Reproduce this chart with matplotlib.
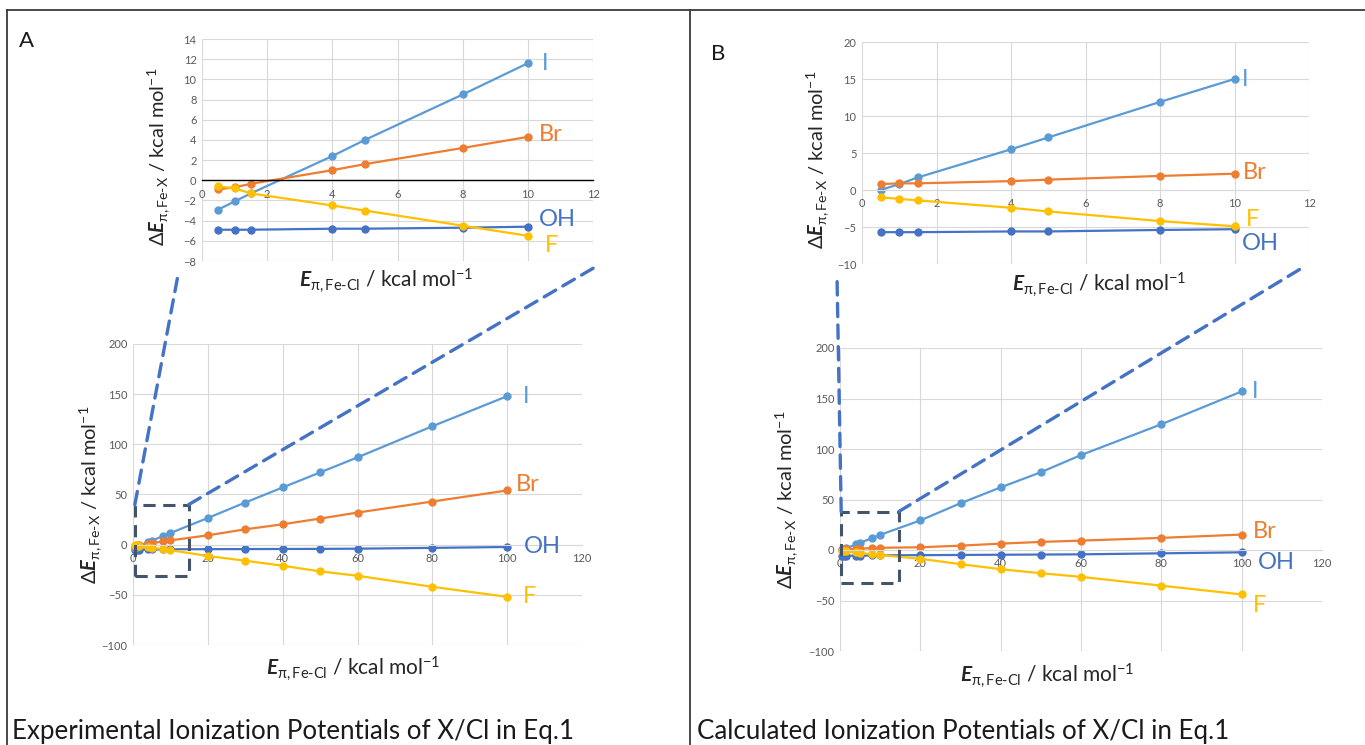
import matplotlib
matplotlib.use('Agg')
import matplotlib.pyplot as plt
from matplotlib.patches import Rectangle, ConnectionPatch
from matplotlib.lines import Line2D

# x values (kcal/mol); the insets show the first 7 points
x_zoom = [0.5, 1, 1.5, 4, 5, 8, 10]
x_full = x_zoom + [20, 30, 40, 50, 60, 80, 100]

# panel A - experimental
exp_I = [-2.9, -2.1, -1.3, 2.4, 4.0, 8.5, 11.6, 26.6, 42, 57, 72, 87, 118, 148]
exp_Br = [-0.9, -0.7, -0.35, 1.0, 1.6, 3.2, 4.3, 9.3, 15.3, 20.3, 26, 32, 43, 54]
exp_OH = [-4.9, -4.9, -4.9, -4.8, -4.8, -4.7, -4.6, -4.5, -4.4, -4.3, -4.2, -4.0, -3.2, -2.3]
exp_F = [-0.6, -0.8, -1.3, -2.5, -3.0, -4.5, -5.5, -11.3, -16, -21, -26.6, -31, -42, -52]

# panel B - calculated
calc_I = [0.0, 0.8, 1.7, 5.5, 7.1, 11.9, 15.0, 29.3, 46.3, 62, 77, 94, 124.5, 157]
calc_Br = [0.8, 0.9, 0.9, 1.2, 1.4, 1.9, 2.2, 2.7, 4.3, 6.3, 8.0, 9.3, 12, 15.3]
calc_OH = [-5.7, -5.7, -5.7, -5.6, -5.6, -5.4, -5.3, -5.1, -4.9, -4.7, -4.5, -4.3, -3.3, -2.3]
calc_F = [-1.0, -1.2, -1.4, -2.4, -2.9, -4.2, -4.9, -8.7, -14, -19, -23, -26.6, -35.3, -44]

names = ['OH', 'I', 'Br', 'F']
colors = {'I': '#5B9BD5', 'Br': '#ED7D31', 'F': '#FFC000', 'OH': '#4472C4'}

main_xticks = [0, 20, 40, 60, 80, 100, 120]
main_yticks = [-100, -50, 0, 50, 100, 150, 200]
inset_xticks = [0, 2, 4, 6, 8, 10, 12]
insetA_yticks = [-8, -6, -4, -2, 0, 2, 4, 6, 8, 10, 12, 14]
insetB_yticks = [-10, -5, 0, 5, 10, 15, 20]

caption_A = 'Experimental Ionization Potentials of X/Cl in Eq.1'
caption_B = 'Calculated Ionization Potentials of X/Cl in Eq.1'

ylab = r'$\Delta\mathit{E}_{\mathrm{\pi},\text{Fe-X}}$ / kcal mol$^{\mathrm{-1}}$'
xlab = r'$\mathit{E}_{\mathrm{\pi},\text{Fe-Cl}}$ / kcal mol$^{\mathrm{-1}}$'

plt.rcParams['font.family'] = ['Lato', 'DejaVu Sans']
plt.rcParams['mathtext.fontset'] = 'custom'
plt.rcParams['mathtext.rm'] = 'Lato'
plt.rcParams['mathtext.it'] = 'Lato:italic:bold'
plt.rcParams['mathtext.bf'] = 'Lato:bold'
plt.rcParams['mathtext.fallback'] = 'stixsans'

W, H = 1365, 745
fig = plt.figure(figsize=(W / 100, H / 100), dpi=100)


def rect(x0, y0, x1, y1):
    # pixel box (top-left origin) -> figure fraction
    return [x0 / W, 1 - y1 / H, (x1 - x0) / W, (y1 - y0) / H]


def pt(x, y):
    return (x / W, 1 - y / H)


def draw(ax, xs, data, xticks, yticks, offsets, zero_color, fs_lab=17):
    ax.set_xlim(xticks[0], xticks[-1])
    ax.set_ylim(yticks[0], yticks[-1])
    ax.set_xticks(xticks)
    ax.set_yticks(yticks)
    ax.grid(True, color='#D9D9D9', lw=0.8)
    ax.set_axisbelow(True)
    for s in ['top', 'right', 'left']:
        ax.spines[s].set_visible(False)
    ax.spines['bottom'].set_position(('data', 0))
    ax.spines['bottom'].set_color(zero_color)
    ax.spines['bottom'].set_linewidth(1.0 if zero_color != '#D9D9D9' else 0.8)
    ax.tick_params(length=0, labelsize=8, labelcolor='#595959')
    ax.tick_params(axis='x', pad=6)
    ax.tick_params(axis='y', pad=4)
    for name in names:
        ys = data[name][:len(xs)]
        ax.plot(xs, ys, color=colors[name], lw=1.6, marker='o', ms=5, clip_on=False)
        ax.annotate(name, xy=(xs[-1], ys[-1]), xytext=offsets[name], textcoords='offset points',
                    ha='left', va='center', color=colors[name], fontsize=fs_lab)


expA = {'I': exp_I, 'Br': exp_Br, 'OH': exp_OH, 'F': exp_F}
calcB = {'I': calc_I, 'Br': calc_Br, 'OH': calc_OH, 'F': calc_F}

# ---- panel A ----
axA_in = fig.add_axes(rect(202, 39, 593, 261))
draw(axA_in, x_zoom, expA, inset_xticks, insetA_yticks,
     {'I': (10, 0), 'Br': (8, 2), 'OH': (8, 5), 'F': (12, -7)}, 'black')
axA = fig.add_axes(rect(133, 344, 582, 645))
draw(axA, x_full, expA, main_xticks, main_yticks,
     {'I': (11, 0), 'Br': (6, 4), 'OH': (12, 0), 'F': (11, 0)}, '#D9D9D9')

# ---- panel B ----
axB_in = fig.add_axes(rect(862, 42, 1309, 264))
draw(axB_in, x_zoom, calcB, inset_xticks, insetB_yticks,
     {'I': (5, 0), 'Br': (6, 1), 'OH': (5, -10), 'F': (8, 5)}, '#D9D9D9')
axB = fig.add_axes(rect(840, 348, 1322, 651))
draw(axB, x_full, calcB, main_xticks, main_yticks,
     {'I': (7, 0), 'Br': (8, 2), 'OH': (12, -7), 'F': (8, -8)}, '#D9D9D9')

# axis labels
for ax, xl, yl in [(axA_in, (0.47, -0.09), (-0.11, 0.47)),
                   (axA, (0.49, -0.08), (-0.095, 0.5)),
                   (axB_in, (0.53, -0.095), (-0.10, 0.47)),
                   (axB, (0.43, -0.08), (-0.11, 0.5))]:
    ax.set_xlabel(xlab, fontsize=15, color='#262626', va='center')
    ax.set_ylabel(ylab, fontsize=14.5, color='#262626', va='center')
    ax.xaxis.set_label_coords(*xl)
    ax.yaxis.set_label_coords(*yl)

# zoom boxes and connector lines
for ax, ax_in, box, ends in [(axA, axA_in, (0.5, -31, 14.9, 40), (pt(178, 275), pt(597, 266))),
                             (axB, axB_in, (0.3, -33, 14.6, 38), (pt(837, 275), pt(1302, 268)))]:
    x0, y0, x1, y1 = box
    ax.add_patch(Rectangle((x0, y0), x1 - x0, y1 - y0, fill=False, ec='#44546A', lw=2.2,
                           ls=(0, (4, 2.5)), zorder=5, clip_on=False))
    for (bx, by), end in zip([(x0, y1), (x1, y1)], ends):
        cp = ConnectionPatch(xyA=(bx, by), coordsA='data', axesA=ax, xyB=end,
                             coordsB='figure fraction', color='#4472C4', lw=2.4,
                             ls=(0, (4, 2.5)), zorder=6)
        fig.add_artist(cp)

# panel frame lines
for a, b in [((7, 10), (1365, 10)), ((7, 10), (7, 745)), ((690, 10), (690, 745))]:
    fig.add_artist(Line2D([a[0] / W, b[0] / W], [1 - a[1] / H, 1 - b[1] / H],
                          color='#3a3a3a', lw=1.3, transform=fig.transFigure))

fig.text(19 / W, 1 - 41 / H, 'A', fontsize=16, va='center', ha='left', color='#1a1a1a')
fig.text(711 / W, 1 - 54 / H, 'B', fontsize=16, va='center', ha='left', color='#1a1a1a')
fig.text(12 / W, 1 - 731 / H, caption_A, fontsize=18.6, va='center', ha='left', color='#1a1a1a')
fig.text(697 / W, 1 - 731 / H, caption_B, fontsize=18.6, va='center', ha='left', color='#1a1a1a')

fig.savefig('out.png', dpi=100, facecolor='white')
